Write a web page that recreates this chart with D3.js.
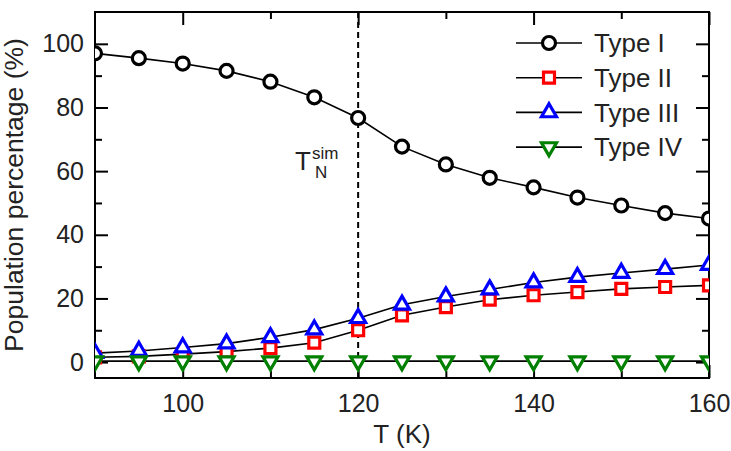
<!DOCTYPE html>
<html>
<head>
<meta charset="utf-8">
<script src="https://cdn.jsdelivr.net/npm/d3@7"></script>
<style>
  body { margin: 0; background: #fff; }
  text { font-family: "Liberation Sans", Arial, sans-serif; fill: #222; }
</style>
</head>
<body>
<script>
// data
const temps   = [90, 95, 100, 105, 110, 115, 120, 125, 130, 135, 140, 145, 150, 155, 160];
const typeI   = [97, 95.5, 93.8, 91.5, 88.1, 83.2, 76.7, 67.7, 62.1, 57.9, 54.9, 51.7, 49.2, 46.8, 45.1];
const typeII  = [1.5, 1.8, 2.5, 3.3, 4.4, 6.1, 10, 14.7, 17.3, 19.6, 21, 22, 23, 23.6, 24.1];
const typeIII = [2.8, 3.5, 4.6, 5.8, 7.8, 10.2, 13.8, 18, 20.6, 22.8, 25, 26.7, 28, 29.2, 30.5];
const typeIV  = [0.3, 0.3, 0.3, 0.3, 0.3, 0.3, 0.3, 0.3, 0.3, 0.3, 0.3, 0.3, 0.3, 0.3, 0.3];
const seriesNames = ["Type I", "Type II", "Type III", "Type IV"];
const xTicks = [100, 120, 140, 160];
const yTicks = [0, 20, 40, 60, 80, 100];
const tNeel = 120;

const WIDTH = 731, HEIGHT = 451;
let margin = {top: 12, right: 22, bottom: 73, left: 95},
    width = WIDTH - margin.left - margin.right,
    height = HEIGHT - margin.top - margin.bottom;

let svg = d3.select("body").append("svg")
    .attr("width", WIDTH)
    .attr("height", HEIGHT);

let g = svg.append("g")
    .attr("transform", "translate(" + margin.left + "," + margin.top + ")");

let xScale = d3.scaleLinear().domain([90, 160]).range([0, width]);
let yScale = d3.scaleLinear().domain([-5, 110]).range([height, 0]);

g.append("clipPath").attr("id", "clip")
  .append("rect").attr("width", width).attr("height", height);

// axes, ticks inward, mirrored on top/right
const MAJ = 13, MIN = 7;
const xMinor = [110, 130, 150];
const yMinor = [10, 30, 50, 70, 90];

function styleAxis(sel) {
  sel.select(".domain").remove();
  sel.selectAll(".tick line").attr("stroke", "#000").attr("stroke-width", 2);
  sel.selectAll("text").attr("font-size", 25).attr("fill", "#222");
}

g.append("g").attr("transform", "translate(0," + height + ")")
  .call(d3.axisBottom(xScale).tickValues(xTicks).tickSize(-MAJ).tickPadding(16).tickFormat(d3.format("d")))
  .call(styleAxis);
g.append("g").attr("transform", "translate(0," + height + ")")
  .call(d3.axisBottom(xScale).tickValues(xMinor).tickSize(-MIN).tickFormat(""))
  .call(styleAxis);
g.append("g")
  .call(d3.axisTop(xScale).tickValues(xTicks).tickSize(-MAJ).tickFormat(""))
  .call(styleAxis);
g.append("g")
  .call(d3.axisTop(xScale).tickValues(xMinor).tickSize(-MIN).tickFormat(""))
  .call(styleAxis);

g.append("g")
  .call(d3.axisLeft(yScale).tickValues(yTicks).tickSize(-MAJ).tickPadding(11).tickFormat(d3.format("d")))
  .call(styleAxis);
g.append("g")
  .call(d3.axisLeft(yScale).tickValues(yMinor).tickSize(-MIN).tickFormat(""))
  .call(styleAxis);
g.append("g").attr("transform", "translate(" + width + ",0)")
  .call(d3.axisRight(yScale).tickValues(yTicks).tickSize(-MAJ).tickFormat(""))
  .call(styleAxis);
g.append("g").attr("transform", "translate(" + width + ",0)")
  .call(d3.axisRight(yScale).tickValues(yMinor).tickSize(-MIN).tickFormat(""))
  .call(styleAxis);

// frame
g.append("rect")
  .attr("width", width).attr("height", height)
  .attr("fill", "none").attr("stroke", "#000").attr("stroke-width", 2);

// dashed line at T_N
g.append("line")
  .attr("x1", xScale(tNeel)).attr("x2", xScale(tNeel))
  .attr("y1", 0).attr("y2", height)
  .attr("stroke", "#000").attr("stroke-width", 2)
  .attr("stroke-dasharray", "6,4");

// T_N^sim label
let lab = g.append("text")
  .attr("x", 200).attr("y", 158).attr("font-size", 26);
lab.append("tspan").text("T");
lab.append("tspan").attr("font-size", 17).attr("dx", 1).attr("dy", -11).text("sim");
lab.append("tspan").attr("font-size", 17).attr("x", 220).attr("dy", 19).text("N");

// markers
function markerPath(kind) {
  if (kind == "circle") return d3.symbol(d3.symbolCircle, Math.PI * 6.5 * 6.5)();
  if (kind == "square") return "M-5.5,-5.5H5.5V5.5H-5.5Z";
  let s = 15, h = s * Math.sqrt(3) / 2;
  if (kind == "up") return "M0," + (-2 * h / 3) + "L" + (s / 2) + "," + (h / 3) + "L" + (-s / 2) + "," + (h / 3) + "Z";
  return "M0," + (2 * h / 3) + "L" + (s / 2) + "," + (-h / 3) + "L" + (-s / 2) + "," + (-h / 3) + "Z";
}

let series = [
  {name: seriesNames[0], values: typeI,   color: "#000000", kind: "circle"},
  {name: seriesNames[1], values: typeII,  color: "#ff0000", kind: "square"},
  {name: seriesNames[2], values: typeIII, color: "#0000ff", kind: "up"},
  {name: seriesNames[3], values: typeIV,  color: "#008000", kind: "down"}
];

let plot = g.append("g").attr("clip-path", "url(#clip)");

let line = d3.line()
  .x((d, i) => xScale(temps[i]))
  .y(d => yScale(d));

series.forEach(s => {
  plot.append("path")
    .attr("d", line(s.values))
    .attr("fill", "none")
    .attr("stroke", "#000")
    .attr("stroke-width", 1.6);
});

series.forEach(s => {
  plot.selectAll(null)
    .data(s.values)
    .enter().append("path")
      .attr("transform", (d, i) => "translate(" + xScale(temps[i]) + "," + yScale(d) + ")")
      .attr("d", markerPath(s.kind))
      .attr("fill", "#fff")
      .attr("stroke", s.color)
      .attr("stroke-width", 3.2);
});

// legend
let legend = svg.append("g");
series.forEach((s, i) => {
  let ly = 43 + i * 34.7;
  legend.append("line")
    .attr("x1", 516).attr("x2", 582).attr("y1", ly).attr("y2", ly)
    .attr("stroke", "#000").attr("stroke-width", 1.6);
  legend.append("path")
    .attr("transform", "translate(549," + ly + ")")
    .attr("d", markerPath(s.kind))
    .attr("fill", "#fff")
    .attr("stroke", s.color)
    .attr("stroke-width", 3.2);
  legend.append("text")
    .attr("x", 594).attr("y", ly)
    .attr("dy", "0.35em")
    .attr("font-size", 26)
    .text(s.name);
});

// axis titles
svg.append("text")
  .attr("x", margin.left + width / 2).attr("y", 443)
  .attr("text-anchor", "middle")
  .attr("font-size", 26)
  .text("T (K)");

svg.append("text")
  .attr("transform", "rotate(-90)")
  .attr("x", -(margin.top + height / 2)).attr("y", 23)
  .attr("text-anchor", "middle")
  .attr("font-size", 26.5)
  .text("Population percentage (%)");
</script>
</body>
</html>
